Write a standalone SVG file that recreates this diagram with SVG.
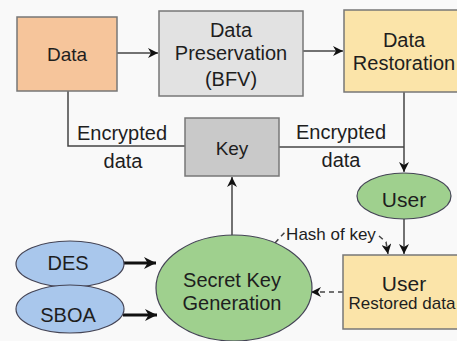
<svg xmlns="http://www.w3.org/2000/svg" width="457" height="341" viewBox="0 0 457 341">
<style>
text{font-family:"Liberation Sans",Arial,sans-serif;fill:#1e1e1e;text-anchor:middle}
.t20{font-size:20px}.t19{font-size:19px}.t17{font-size:17px}.t21{font-size:21px}
.box{stroke:#777;stroke-width:1.5}
.ell{stroke:#445;stroke-width:1.2}
.ln{fill:none;stroke:#444;stroke-width:1.5}
.thick{fill:none;stroke:#111;stroke-width:3}
.dash{fill:none;stroke:#444;stroke-width:1.5;stroke-dasharray:5,4}
</style>
<defs>
<marker id="ah" viewBox="0 0 10 10" refX="10" refY="5" markerWidth="10" markerHeight="10" markerUnits="userSpaceOnUse" orient="auto"><path d="M0,0 L10,5 L0,10 L3,5 Z" fill="#111"/></marker>
<marker id="ahb" viewBox="0 0 10 10" refX="10" refY="5" markerWidth="12" markerHeight="12" markerUnits="userSpaceOnUse" orient="auto"><path d="M0,0 L10,5 L0,10 L3,5 Z" fill="#111"/></marker>
</defs>
<rect width="457" height="341" fill="#f9f9f9"/>
<g id="connectors">
<path class="ln" d="M117,53 L158,53" marker-end="url(#ah)"/>
<path class="ln" d="M303,51 L343,51" marker-end="url(#ah)"/>
<path class="ln" d="M68,91 L68,146 L185,146"/>
<path class="ln" d="M279,147 L404,147"/>
<path class="ln" d="M404,92 L404,172" marker-end="url(#ah)"/>
<path class="ln" d="M232,235 L232,177" marker-end="url(#ah)"/>
<path class="ln" d="M404,218 L404,254" marker-end="url(#ah)"/>
<path class="dash" d="M275,243 L285,232"/>
<path class="dash" d="M379,236 L386,242 L388,254" marker-end="url(#ah)"/>
<path class="dash" d="M343,292 L311,292" marker-end="url(#ah)"/>
<path class="thick" d="M123,263 L156,263" marker-end="url(#ahb)"/>
<path class="thick" d="M123,315 L157,315" marker-end="url(#ahb)"/>
<text class="t20" x="122" y="140">Encrypted</text>
<text class="t20" x="123" y="168">data</text>
<text class="t20" x="341" y="139">Encrypted</text>
<text class="t20" x="341" y="167">data</text>
<text class="t17" x="331" y="240">Hash of key</text>
</g>
<g id="data"><rect class="box" x="17" y="17" width="100" height="74" fill="#f6c59b"/><text class="t19" x="67" y="61">Data</text></g>
<g id="preservation"><rect class="box" x="159" y="11" width="144" height="85" fill="#e2e2e2"/><text class="t20" x="231" y="37">Data</text><text class="t20" x="231" y="60">Preservation</text><text class="t20" x="231" y="86">(BFV)</text></g>
<g id="restoration"><rect class="box" x="344" y="10" width="118" height="82" fill="#fbe4a9"/><text class="t20" x="404" y="47">Data</text><text class="t20" x="404" y="70">Restoration</text></g>
<g id="key"><rect class="box" x="185" y="118" width="94" height="58" fill="#c9c9c9"/><text class="t19" x="232" y="155">Key</text></g>
<g id="user"><ellipse class="ell" cx="404" cy="196" rx="47" ry="23" fill="#9fd08e"/><text class="t21" x="404" y="207">User</text></g>
<g id="secretkey"><ellipse class="ell" cx="234" cy="288" rx="78" ry="53" fill="#9fd08e"/><text class="t20" x="232" y="287">Secret Key</text><text class="t20" x="232" y="310">Generation</text></g>
<g id="des"><ellipse class="ell" cx="70" cy="264" rx="54" ry="23" fill="#a9c7ec"/><text class="t20" x="68" y="270">DES</text></g>
<g id="sboa"><ellipse class="ell" cx="70" cy="309" rx="54" ry="24" fill="#a9c7ec"/><text class="t20" x="68" y="322">SBOA</text></g>
<g id="restored"><rect class="box" x="343" y="255" width="120" height="74" fill="#fbe4a9"/><text class="t21" x="404" y="291">User</text><text class="t17" x="402" y="309">Restored data</text></g>
</svg>
